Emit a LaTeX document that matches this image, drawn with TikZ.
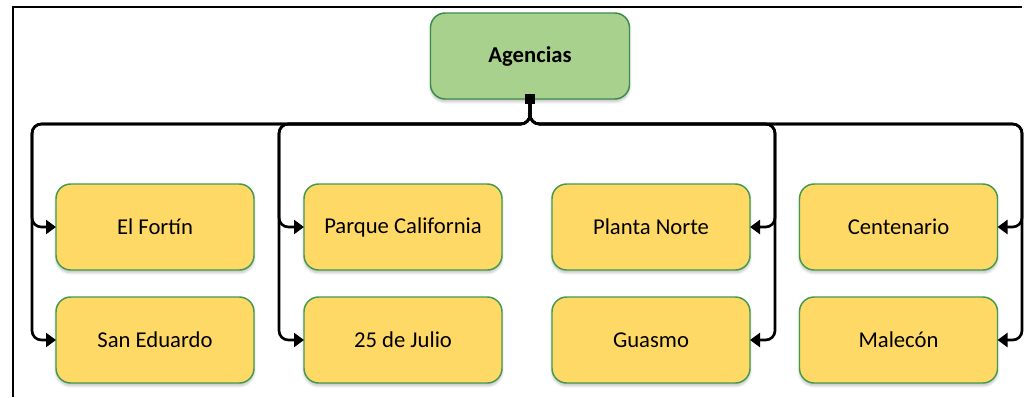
\documentclass[tikz,border=0pt]{standalone}
\usepackage{fontspec}
\setmainfont{Carlito}
\usetikzlibrary{arrows.meta,shadows.blur}

\definecolor{agfill}{HTML}{A9D18E}
\definecolor{agline}{HTML}{3E8A4C}
\definecolor{sucfill}{HTML}{FFD966}
\definecolor{sucline}{HTML}{429A4E}

\begin{document}
\begin{tikzpicture}[x=0.75pt, y=-0.75pt,
	box/.style={rectangle, rounded corners=11pt, draw=sucline, line width=1.1pt, fill=sucfill,
		minimum width=148.5pt, minimum height=64.5pt, outer sep=0pt, font=\fontsize{17}{20}\selectfont,
		blur shadow={shadow xshift=0pt, shadow yshift=-2pt, shadow opacity=25, shadow blur steps=6}},
	conn/.style={line width=2pt, rounded corners=7pt, {Square[length=7pt,width=7pt]}-{Triangle[length=7.5pt,width=10.5pt]}}]
	\useasboundingbox (0,0) rectangle (1024,397);

	% marco
	\draw[line width=1.5pt] (13,397) -- (13,7) -- (1022,7);

	\node[box, fill=agfill, draw=agline, minimum width=149.25pt, font=\fontsize{17}{20}\selectfont\bfseries] (ag) at (530,56) {Agencias};

	\node[box] (fortin) at (155,227) {El Fortín};
	\node[box] (eduardo) at (155,340) {San Eduardo};
	\node[box] (parque) at (403,227) {Parque California};
	\node[box] (julio) at (403,340) {25 de Julio};
	\node[box] (planta) at (651,227) {Planta Norte};
	\node[box] (guasmo) at (651,340) {Guasmo};
	\node[box] (cent) at (898.5,227) {Centenario};
	\node[box] (malecon) at (898.5,340) {Malecón};

	% puntos del bus
	\coordinate (s) at ([yshift=3.4pt]ag.south);
	\coordinate (c1) at (32,124);
	\coordinate (c2) at (279,124);
	\coordinate (c3) at (775,124);
	\coordinate (c4) at (1022,124);

	% conexiones
	\draw[conn] (s) |- (c1) |- (fortin.west);
	\draw[conn] (s) |- (c1) |- (eduardo.west);
	\draw[conn] (s) |- (c2) |- (parque.west);
	\draw[conn] (s) |- (c2) |- (julio.west);
	\draw[conn] (s) |- (c3) |- (planta.east);
	\draw[conn] (s) |- (c3) |- (guasmo.east);
	\draw[conn] (s) |- (c4) |- (cent.east);
	\draw[conn] (s) |- (c4) |- (malecon.east);
\end{tikzpicture}
\end{document}
